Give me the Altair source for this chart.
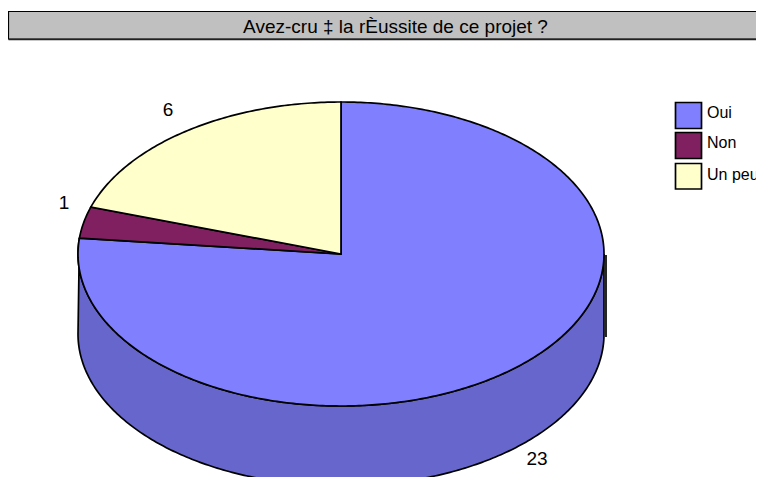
import numpy as np
import pandas as pd
import altair as alt

# Chart values
categories = ["Oui", "Non", "Un peu"]
values = [23, 1, 6]
colors = ["#8080FF", "#802060", "#FFFFCC"]
side_color = "#6666CC"
title_text = "Avez-cru ‡ la rÈussite de ce projet ?"

# Layout of the drawing (pixels in the plot area)
W, H = 748, 469
CX, CY, RX, RY, DEPTH = 333, 246, 263, 152, 80
FONT = "Liberation Sans"
FS = 19
LEG_FS = 16
LW = 1.7

xs = alt.Scale(domain=[0, W], range=[0, W], nice=False, zero=False)
ys = alt.Scale(domain=[0, H], range=[0, H], nice=False, zero=False)
X = lambda f="x": alt.X(f"{f}:Q", scale=xs, axis=None)
Y = lambda f="y": alt.Y(f"{f}:Q", scale=ys, axis=None)


def rim(a0, a1, dy=0.0):
    n = max(3, int(abs(a1 - a0) * 80))
    t = np.linspace(a0, a1, n)
    return list(CX + RX * np.sin(t)), list(CY + dy - RY * np.cos(t))


rows = []
frac = np.cumsum([0] + values) / sum(values) * 2 * np.pi
for i, c in enumerate(categories):
    px, py = rim(frac[i], frac[i + 1])
    px = [CX] + px
    py = [CY] + py
    for k, (a, b) in enumerate(zip(px, py)):
        rows.append({"category": c, "k": k, "x": a, "y": b})
slices = pd.DataFrame(rows)

# Side wall: visible lower part of the first slice
ax, ay = rim(np.pi / 2, frac[1])
bx, by = rim(1.5 * np.pi, np.pi / 2, DEPTH)
side = pd.DataFrame({"x": ax + bx, "y": ay + by, "k": range(len(ax) + len(bx))})

wall = alt.Chart(side).mark_line(
    interpolate="linear-closed", fill=side_color, stroke="black", strokeWidth=LW, clip=True
).encode(x=X(), y=Y(), order="k:Q")

pie = alt.Chart(slices).mark_line(
    interpolate="linear-closed", stroke="black", strokeWidth=LW, clip=True
).encode(
    x=X(), y=Y(), order="k:Q",
    fill=alt.Fill(
        "category:N",
        scale=alt.Scale(domain=categories, range=colors),
        legend=None,
    ),
)

edge = alt.Chart(pd.DataFrame({"x": [598], "y": [247], "y2": [329]})).mark_rule(
    color="black", strokeWidth=LW
).encode(x=alt.X("x:Q", scale=xs, axis=None), y=Y(), y2="y2:Q")

# Title band
band = alt.Chart(pd.DataFrame({"x": [0.5], "x2": [W + 10], "y": [3.5], "y2": [31]})).mark_rect(
    fill="#C0C0C0", stroke="black", strokeWidth=1.2, clip=True
).encode(x=X(), x2="x2:Q", y=Y(), y2="y2:Q")
band_shadow = alt.Chart(pd.DataFrame({"x": [0.5], "x2": [W], "y": [31.5]})).mark_rule(
    color="#222222", strokeWidth=1.5
).encode(x=X(), x2="x2:Q", y=Y())
title = alt.Chart(pd.DataFrame({"x": [387.5], "y": [19], "t": [title_text]})).mark_text(
    font=FONT, fontSize=FS, color="black", align="center", baseline="middle"
).encode(x=X(), y=Y(), text="t:N")

# Slice value labels
lab = alt.Chart(pd.DataFrame({
    "x": [529, 56, 160], "y": [451, 195, 102], "t": [str(v) for v in values]
})).mark_text(font=FONT, fontSize=FS, color="black", align="center", baseline="middle").encode(
    x=X(), y=Y(), text="t:N"
)

# Legend
leg = pd.DataFrame({
    "category": categories,
    "x": [667.5] * 3, "x2": [693.5] * 3,
    "y": [94.5, 124.5, 155.5], "y2": [120.5, 150.5, 181],
    "tx": [699] * 3,
})
leg_boxes = alt.Chart(leg).mark_rect(stroke="black", strokeWidth=LW).encode(
    x=X(), x2="x2:Q", y=Y(), y2="y2:Q",
    fill=alt.Fill("category:N", scale=alt.Scale(domain=categories, range=colors), legend=None),
)
leg_text = alt.Chart(leg.assign(ym=[105, 135, 167])).mark_text(
    font=FONT, fontSize=LEG_FS, color="black", align="left", baseline="middle"
).encode(x=alt.X("tx:Q", scale=xs, axis=None), y=alt.Y("ym:Q", scale=ys, axis=None), text="category:N")

chart = alt.layer(wall, pie, edge, band, band_shadow, title, lab, leg_boxes, leg_text).properties(
    width=W, height=H, padding=0, autosize=alt.AutoSizeParams(type="none"), background="white"
).configure_view(stroke=None)

chart.save("out.html", embed_options={"renderer": "svg", "actions": False})
